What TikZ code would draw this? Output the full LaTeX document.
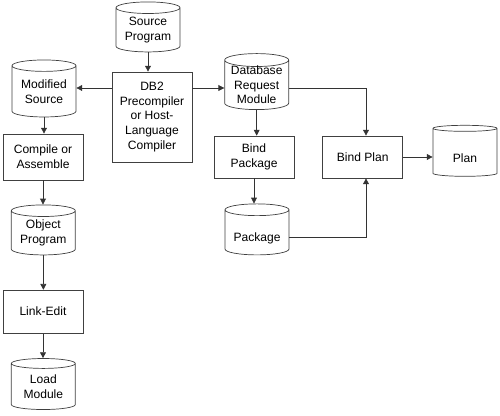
\documentclass[tikz,border=0pt]{standalone}
\usepackage{fontspec}
\setmainfont{Liberation Sans}
\usetikzlibrary{arrows.meta,shapes.geometric,positioning,calc}

\begin{document}
\begin{tikzpicture}[
    box/.style={draw=black!75, line width=0.6pt, fill=white, minimum width=2.4cm, minimum height=1.26cm, align=center, inner sep=1pt},
    store/.style={draw=black!75, line width=0.6pt, fill=white, cylinder, shape border rotate=90, aspect=0.25, minimum width=1.92cm, align=center, inner sep=0pt, execute at begin node={\rule{0pt}{#1}}},
    store/.default=17.5pt,
    arr/.style={-{Triangle[length=5pt, width=5pt]}, line width=0.6pt, black!80}
]
\useasboundingbox (0,0) rectangle (15,-12.48);
\fontsize{10.3}{12.5}\selectfont
% left column
\node[store, minimum height=1.5cm] (src) at (4.44,-0.90) {Source\\Program};
\node[box, minimum height=2.7cm] (db2) at (4.56,-3.51) {DB2\\Precompiler\\or Host-\\Language\\Compiler};
\node[store, minimum height=1.71cm] (mod) at (1.32,-2.745) {Modified\\Source};
\node[box, minimum height=1.38cm] (comp) at (1.29,-4.71) {Compile or\\Assemble};
\node[store, minimum height=1.5cm] (obj) at (1.30,-6.99) {Object\\Program};
\node[box, minimum height=1.29cm] (link) at (1.29,-9.35) {Link-Edit};
\node[store, minimum height=1.53cm] (load) at (1.30,-11.60) {Load\\Module};
% right side
\node[store=11pt, minimum height=1.68cm, inner ysep=-2pt] (dbrm) at (7.70,-2.55) {Database\\Request\\Module};
\node[box] (bpk) at (7.62,-4.71) {Bind\\Package};
\node[store, minimum height=1.53cm] (pkg) at (7.71,-6.975) {Package};
\node[box] (bpl) at (10.88,-4.71) {Bind Plan};
\node[store, minimum height=1.53cm] (plan) at (13.95,-4.575) {Plan};

\draw[arr] (src) -- (src |- db2.north);
\draw[arr] (db2.west |- 0,-2.64) -- (mod.east |- 0,-2.64);
\draw[arr] (db2.east |- 0,-2.64) -- (dbrm.west |- 0,-2.64);
\draw[arr] (mod) -- (mod |- comp.north);
\draw[arr] (comp) -- (comp |- obj.north);
\draw[arr] (obj) -- (obj |- link.north);
\draw[arr] (link) -- (link |- load.north);
\draw[arr] (dbrm) -- (dbrm |- bpk.north);
\draw[arr] (bpk) -- (bpk |- pkg.north);
\draw[arr] (dbrm.east |- 0,-2.64) -| ($(bpl.north)+(0.1,0)$);
\draw[arr] (pkg.east |- 0,-7.11) -| ($(bpl.south)+(0.1,0)$);
\draw[arr] (bpl.east |- 0,-4.71) -- (plan.west |- 0,-4.71);
\end{tikzpicture}
\end{document}
